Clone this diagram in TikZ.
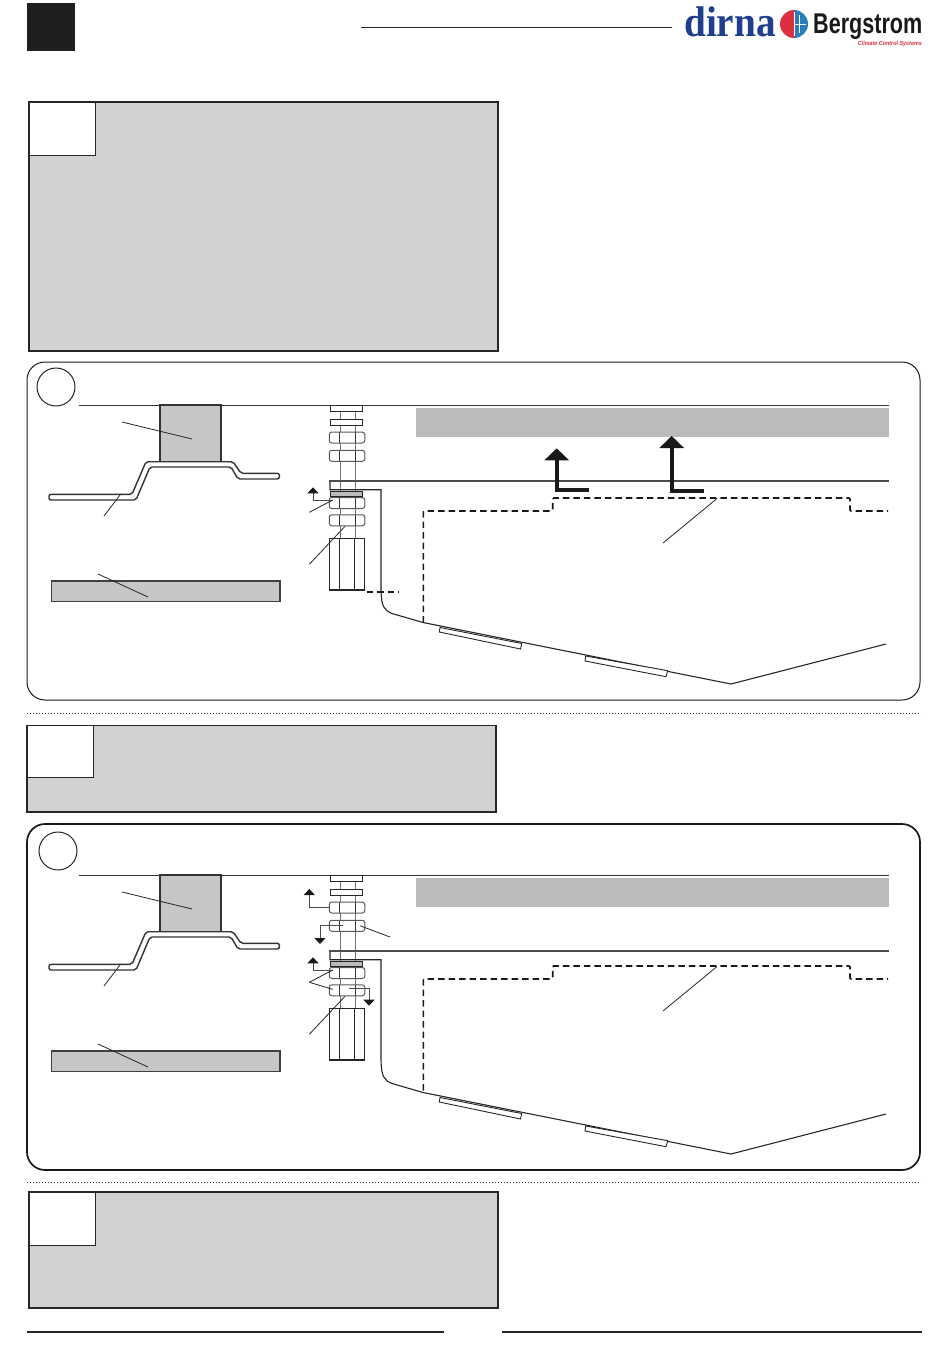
\documentclass[tikz,border=0pt]{standalone}
\usepackage{fontspec}
\usepackage{xcolor}
\usetikzlibrary{arrows.meta,positioning}
\newfontfamily\dirnafont{Liberation Serif}
\newfontfamily\bergfont{Liberation Sans}
\definecolor{boxgrey}{HTML}{D2D2D2}
\definecolor{stripgrey}{HTML}{BBBBBB}
\definecolor{partgrey}{HTML}{C6C6C6}
\definecolor{dirnablue}{HTML}{1F3F8C}
\definecolor{coldblue}{HTML}{2A7DB8}
\definecolor{hotred}{HTML}{DC3040}
\tikzset{
	notebox/.style={draw=black!85,fill=boxgrey,line width=1.3pt},
	cornerbox/.style={draw=black!85,fill=white,line width=1pt},
	panelframe/.style={draw=black!90,rounded corners=18pt},
	thinline/.style={draw=black!85,line width=1.1pt},
	leader/.style={draw=black!85,line width=.8pt},
	hiddenline/.style={draw=black!90,line width=1.6pt,dash pattern=on 6.5pt off 4pt},
	rodline/.style={draw=black!55,line width=1pt},
	washer/.style={draw=black!85,fill=white,line width=1.4pt,rectangle,inner sep=0,minimum width=32pt,minimum height=6pt},
	nut/.style={draw=black!65,fill=white,line width=1pt,rectangle,rounded corners=2.5pt,inner sep=0,minimum width=35.5pt,minimum height=11pt,
		path picture={\draw[black!80,line width=1pt]
			([xshift=-8pt]path picture bounding box.north) -- ([xshift=-8pt]path picture bounding box.south)
			([xshift=8pt]path picture bounding box.north) -- ([xshift=8pt]path picture bounding box.south);}},
	block/.style={draw=black!85,fill=white,line width=1.2pt,rectangle,inner sep=0,minimum width=35.5pt,minimum height=51.7pt,
		path picture={\draw[black!85,line width=1.1pt]
			([xshift=-7.7pt]path picture bounding box.north) -- ([xshift=-7.7pt]path picture bounding box.south)
			([xshift=7.7pt]path picture bounding box.north) -- ([xshift=7.7pt]path picture bounding box.south);}},
	bigarrow/.style={draw=black!90,line width=4.3pt,-{Triangle[length=12pt,width=24pt]}},
	smallarrow/.style={draw=black!70,line width=.9pt,-{Triangle[length=6pt,width=11pt,color=black!90]}},
	callout/.style={draw=black!85,line width=1pt,circle,inner sep=0,minimum size=38pt}
}
% parts that both mounting views share, the argument lifts the hidden outline
\newcommand{\mountview}[1]{
	\draw[draw=black!80,line width=.9pt] (79,405) -- (889,405);
	\fill[stripgrey] (416,408) rectangle (889,437);
	\draw[draw=black!80,fill=partgrey,line width=1.1pt] (160,405) rectangle (221,462);
	\draw[draw=black!80,fill=white,line width=1.4pt,rounded corners=2pt]
		(49,494.3) -- (132,494.3) -- (146,461.7) -- (233,461.7) -- (241,473.3) -- (279.3,473.3)
		-- (279.3,479) -- (238,479) -- (231,467) -- (150,467) -- (136,500) -- (49,500) -- cycle;
	\draw[draw=black!75,fill=partgrey,line width=1.6pt] (51.3,581) rectangle (280,601.5);
	\draw[leader] (122,422) -- (192,439);
	\draw[leader] (104,516) -- (120,495);
	\draw[leader] (98,574) -- (148,597);
	% bolt
	\draw[rodline] (340,405) -- (340,540);
	\draw[rodline] (355,405) -- (355,540);
	\node[washer] (top) at (346.7,408.7) {};
	\node[washer] (second) at (346.7,422.7) {};
	\node[nut] (nutA) at (347,437.5) {};
	\node[nut] (nutB) at (347,455.8) {};
	\node[washer,fill=stripgrey,minimum height=4.6pt] (third) at (346.7,494) {};
	\node[nut] (nutC) at (347,503) {};
	\node[nut] (nutD) at (347,520.3) {};
	\node[block] (sleeve) at (347,564.2) {};
	% body
	\draw[thinline] (330,481) -- (330,489.7) -- (381,489.7) -- (381,590)
		.. controls (381.5,607) and (384,610) .. (392,613.5) -- (423,622.5) -- (731,684) -- (886,644);
	\draw[draw=black!70,line width=1.8pt] (329.3,481) -- (889,481);
	\draw[draw=black!85,line width=.9pt,fill=white] (440,627.5) -- (439.3,632) -- (520.5,649) -- (521.7,643.5) -- cycle;
	\draw[draw=black!85,line width=.9pt,fill=white] (585.7,656) -- (585,661) -- (666,676.7) -- (667.7,670.7) -- cycle;
	\begin{scope}[yshift=#1]
		\draw[hiddenline,rounded corners=1pt] (423.3,622.7) -- (423.3,511) -- (552.7,511) -- (552.7,498)
			-- (850,498) -- (850,511) -- (888,511);
		\draw[leader] (663,543) -- (717,498.5);
	\end{scope}
	\coordinate (smalltip) at (313,487.3);
	\draw[smallarrow] ([xshift=4pt,yshift=3pt]nutC.west) -| (smalltip);
	\draw[leader] ([xshift=4pt,yshift=3pt]nutC.west) -- (309.3,512.3);
	\draw[leader] ([xshift=-2pt]nutD.south) -- (309.3,564.3);
}

\begin{document}
\begin{tikzpicture}[x=1pt,y=-1pt]
	\useasboundingbox (0,0) rectangle (950,1360);
	\fill[white] (0,0) rectangle (950,1360);
	
	\fill[black!88] (27,3) rectangle (75,51);
	\draw[draw=black!85,line width=1.5pt] (361,27.5) -- (672,27.5);
	
	% logo
	\node[text=dirnablue,inner sep=0,anchor=base west,xscale=1.06,yscale=1.16] (dirna) at (684,36)
		{\dirnafont\bfseries\fontsize{37}{37}\selectfont dirna};
	\fill[hotred] (794,38) arc[start angle=90,end angle=270,radius=14];
	\fill[coldblue] (794,38) arc[start angle=90,end angle=-90,radius=14];
	\draw[white,line width=.7pt] (794,12) -- (794,36) (799,15) -- (799,33) (794,24) -- (806,24);
	\node[text=black!90,inner sep=0,anchor=base west,xscale=.83,yscale=1.1] (bergstrom) at (813,33)
		{\bergfont\bfseries\fontsize{26}{26}\selectfont Bergstrom};
	\node[text=hotred,inner sep=0,anchor=base east,xscale=.9] (climate) at (922,45)
		{\bergfont\bfseries\itshape\fontsize{6}{6}\selectfont Climate Control Systems};
	
	% note boxes
	\draw[notebox] (29,102) rectangle (498,351);
	\draw[cornerbox] (29,102) rectangle (95.5,155);
	\draw[notebox] (27,725.5) rectangle (496,812);
	\draw[cornerbox] (27,725.5) rectangle (93.5,777);
	\draw[notebox] (29,1192) rectangle (498,1308);
	\draw[cornerbox] (29,1192) rectangle (95.5,1245);
	
	\draw[black!80,line width=.9pt,dash pattern=on 1pt off 2pt] (27,713) -- (921,713);
	\draw[black!80,line width=.9pt,dash pattern=on 1pt off 2pt] (27,1182) -- (921,1182);
	
	% first view
	\draw[panelframe,line width=1pt] (27,362) rectangle (920,700);
	\node[callout] (viewA) at (56,387) {};
	\begin{scope}[name prefix=a-]
		\mountview{0pt}
		\draw[hiddenline,line width=2pt] (sleeve.south east) ++(1.5,1.5) -- ++(32,0);
		\coordinate (tipA) at (556.7,448.3);
		\coordinate (tailA) at (589,490);
		\coordinate (tipB) at (671.7,436);
		\coordinate (tailB) at (704,491);
		\draw[bigarrow] (tailA) -| (tipA);
		\draw[bigarrow] (tailB) -| (tipB);
	\end{scope}
	
	% second view
	\draw[panelframe,line width=1.7pt] (27,824) rectangle (920,1170);
	\node[callout] (viewB) at (58,851) {};
	\begin{scope}[shift={(0,470)},name prefix=b-]
		\mountview{2pt}
		\coordinate (upTip) at (309.3,419);
		\coordinate (downTip) at (320,474);
		\coordinate (lowTip) at (369,535.7);
		\coordinate (leadEnd) at (390,467);
		\draw[smallarrow] (nutA.west) -| (upTip);
		\draw[smallarrow] ([xshift=-4pt]nutB.center) -| (downTip);
		\draw[smallarrow] ([xshift=2pt,yshift=2pt]nutD.center) -| (lowTip);
		\draw[leader] ([xshift=-5pt]nutB.east) -- (leadEnd);
		\draw[leader] ([xshift=4pt,yshift=1pt]nutD.west) -- (309.3,512.3);
	\end{scope}
	
	\draw[draw=black!85,line width=1.6pt] (27,1332) -- (444,1332);
	\draw[draw=black!85,line width=1.6pt] (502,1332) -- (922,1332);
\end{tikzpicture}
\end{document}
